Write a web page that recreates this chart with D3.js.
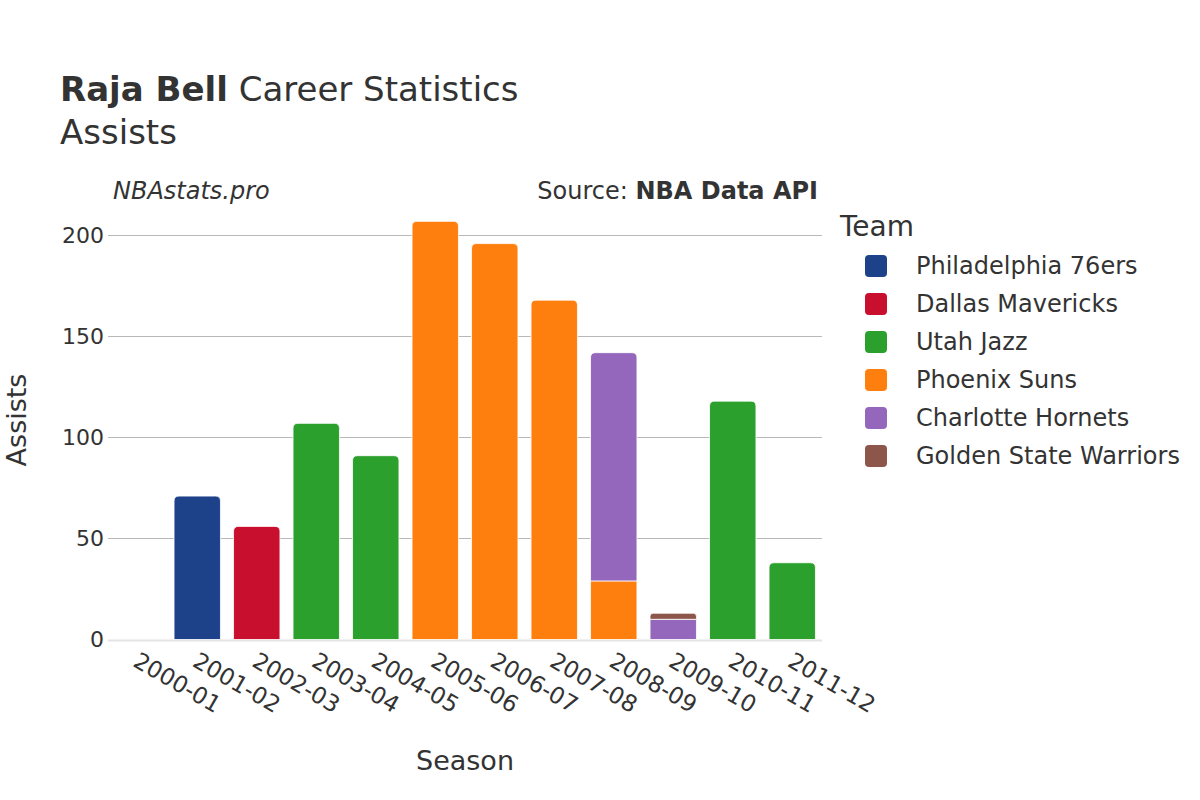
<!DOCTYPE html>
<html>
<head>
<meta charset="utf-8">
<script src="https://cdn.jsdelivr.net/npm/d3@7"></script>
<style>
  html, body { margin: 0; padding: 0; background: #fff; }
  svg { display: block; font-family: "DejaVu Sans", sans-serif; }
</style>
</head>
<body>
<svg id="chart" width="1200" height="800"></svg>
<script>
// ---- data ----
const seasons = ["2000-01","2001-02","2002-03","2003-04","2004-05","2005-06","2006-07","2007-08","2008-09","2009-10","2010-11","2011-12"];
const teams = ["Philadelphia 76ers","Dallas Mavericks","Utah Jazz","Phoenix Suns","Charlotte Hornets","Golden State Warriors"];
const teamColors = ["#1d428a","#c8102e","#2ca02c","#ff7f0e","#9467bd","#8c564b"];
const philadelphia = [0,71,0,0,0,0,0,0,0,0,0,0];
const dallas       = [0,0,56,0,0,0,0,0,0,0,0,0];
const utah         = [0,0,0,107,91,0,0,0,0,0,118,38];
const phoenix      = [0,0,0,0,0,207,196,168,29,0,0,0];
const charlotte    = [0,0,0,0,0,0,0,0,113,10,0,0];
const goldenState  = [0,0,0,0,0,0,0,0,0,3,0,0];
const yTicks = [0,50,100,150,200];

const seriesValues = [philadelphia, dallas, utah, phoenix, charlotte, goldenState];

(function () {
// ---- layout ----
const svg = d3.select("#chart");
const pLeft = 108, pRight = 822, pBottom = 639.5;
const textColor = "#333";

const x = d3.scaleBand().domain(seasons).range([pLeft, pRight]).paddingInner(0.22).paddingOuter(0.11);
const y = d3.scaleLinear().domain([0, 200]).range([pBottom, 235.5]);

// gridlines
svg.append("g").selectAll("line").data(yTicks.filter(d => d > 0)).join("line")
  .attr("x1", pLeft).attr("x2", pRight)
  .attr("y1", d => y(d)).attr("y2", d => y(d))
  .attr("stroke", "#b8b8b8").attr("stroke-width", 1.2);

// zero line
svg.append("line").attr("x1", pLeft).attr("x2", pRight)
  .attr("y1", y(0) + 1).attr("y2", y(0) + 1)
  .attr("stroke", "#e4e4e4").attr("stroke-width", 2);

// y tick labels
svg.append("g").selectAll("text").data(yTicks).join("text")
  .attr("x", pLeft - 4).attr("y", d => y(d)).attr("dy", "0.36em")
  .attr("text-anchor", "end").attr("font-size", 22).attr("fill", textColor)
  .text(d => d);

// stacked data
const stackRows = seasons.map((s, i) => {
  const row = { season: s };
  teams.forEach((t, j) => row[t] = seriesValues[j][i]);
  return row;
});
const stacked = d3.stack().keys(teams)(stackRows);

const topTeam = seasons.map((s, i) => {
  let tt = null;
  teams.forEach((t, j) => { if (seriesValues[j][i] > 0) tt = j; });
  return tt;
});

function barPath(x0, w, y0, y1, rounded) {
  const h = y0 - y1;
  const r = rounded ? Math.min(5, h / 2, w / 2) : 0;
  return `M${x0},${y0} L${x0},${y1 + r} Q${x0},${y1} ${x0 + r},${y1} L${x0 + w - r},${y1} Q${x0 + w},${y1} ${x0 + w},${y1 + r} L${x0 + w},${y0} Z`;
}

stacked.forEach((layer, j) => {
  svg.append("g").selectAll("path").data(layer.filter(d => d[1] - d[0] > 0)).join("path")
    .attr("d", d => {
      const i = seasons.indexOf(d.data.season);
      return barPath(x(d.data.season), x.bandwidth(), y(d[0]), y(d[1]), topTeam[i] === j);
    })
    .attr("fill", teamColors[j])
    .attr("stroke", "#fff").attr("stroke-width", 0.8);
});

// x tick labels
svg.append("g").selectAll("text").data(seasons).join("text")
  .attr("transform", d => `translate(${x(d) + x.bandwidth() / 2 + 2},${pBottom + 12}) rotate(30)`)
  .attr("text-anchor", "start").attr("dy", "0.7em")
  .attr("font-size", 23).attr("fill", textColor)
  .text(d => d);

// axis titles
svg.append("text").attr("x", (pLeft + pRight) / 2).attr("y", 770)
  .attr("text-anchor", "middle").attr("font-size", 27).attr("fill", textColor).text("Season");
svg.append("text").attr("transform", `translate(17,420) rotate(-90)`)
  .attr("text-anchor", "middle").attr("dy", "0.35em").attr("font-size", 27).attr("fill", textColor).text("Assists");

// titles
const t1 = svg.append("text").attr("x", 60).attr("y", 101).attr("font-size", 34).attr("fill", textColor);
t1.append("tspan").attr("font-weight", "bold").text("Raja Bell");
t1.append("tspan").text(" Career Statistics");
svg.append("text").attr("x", 60).attr("y", 144).attr("font-size", 34).attr("fill", textColor).text("Assists");

svg.append("text").attr("x", 113).attr("y", 199).attr("font-size", 24).attr("font-style", "italic")
  .attr("fill", textColor).text("NBAstats.pro");
const src = svg.append("text").attr("x", 818).attr("y", 199).attr("text-anchor", "end")
  .attr("font-size", 24).attr("fill", textColor);
src.append("tspan").text("Source: ");
src.append("tspan").attr("font-weight", "bold").text("NBA Data API");

// legend
svg.append("text").attr("x", 840).attr("y", 236).attr("font-size", 28).attr("fill", textColor).text("Team");
const leg = svg.append("g").selectAll("g").data(teams).join("g")
  .attr("transform", (d, i) => `translate(865,${266 + i * 38})`);
leg.append("rect").attr("x", 0).attr("y", -11).attr("width", 22).attr("height", 22).attr("rx", 4)
  .attr("fill", (d, i) => teamColors[i]);
leg.append("text").attr("x", 51).attr("y", 0).attr("dy", "0.35em").attr("font-size", 24)
  .attr("fill", textColor).text(d => d);
})();
</script>
</body>
</html>
